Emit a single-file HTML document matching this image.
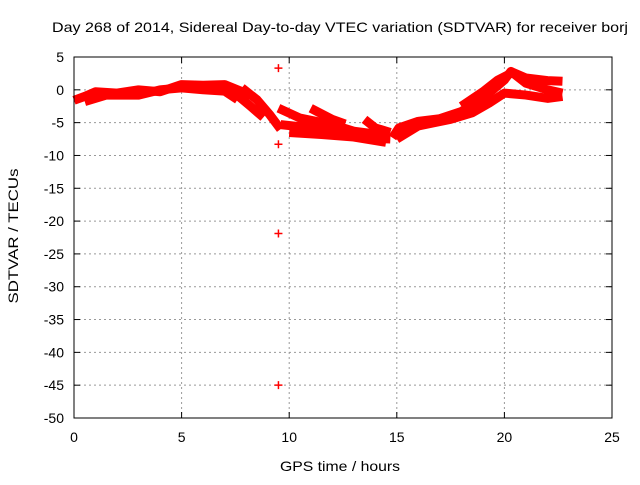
<!DOCTYPE html>
<html><head><meta charset="utf-8"><style>
body{margin:0;background:#fff;font-family:"Liberation Sans",sans-serif;}
svg text{font-family:"Liberation Sans",sans-serif;font-size:14px;fill:#000;}
</style></head><body>
<svg width="640" height="480">
<text x="340" y="32" text-anchor="middle" textLength="576" lengthAdjust="spacingAndGlyphs">Day 268 of 2014, Sidereal Day-to-day VTEC variation (SDTVAR) for receiver borj</text>
<g id="grid"></g>
<g id="marks"></g>
<rect x="74" y="57" width="538" height="361" fill="none" stroke="#000"/>
<g id="ticks"></g>
<text x="340" y="471" text-anchor="middle" textLength="120" lengthAdjust="spacingAndGlyphs">GPS time / hours</text>
<text transform="translate(18,236) rotate(-90)" text-anchor="middle" textLength="135" lengthAdjust="spacingAndGlyphs">SDTVAR / TECUs</text>
</svg>
<script>
const xTicks=[0,5,10,15,20,25];
const yTicks=[5,0,-5,-10,-15,-20,-25,-30,-35,-40,-45,-50];
const arcUpper=[[0,-1.6],[0.5,-1],[1,-0.3],[2,-0.5],[3,0],[4,-0.3],[5,0.8],[6,0.7],[7,0.8],[7.6,0],[8.2,-0.8]];
const arcUpper2=[[0.5,-1.8],[1.5,-0.8],[3,-0.8],[4,0],[5,0.3],[6,0],[7,-0.2],[7.6,-1.5]];
const arcDownA=[[7.8,0.3],[8.5,-1.5],[9.1,-3.8],[9.6,-6]];
const arcDownB=[[7.4,-0.3],[8.2,-2.5],[8.8,-4.2]];
const arcMidA=[[9.5,-2.8],[10.5,-4.3],[12,-5.3],[13,-6.3],[14.6,-7]];
const arcMidB=[[9.6,-5.3],[11,-5.8],[12.5,-6.5],[14,-7.4],[14.7,-7.5]];
const arcMidC=[[11,-2.8],[12,-4.5],[12.6,-5.2]];
const arcMidD=[[10,-6.5],[11.5,-6.8],[13,-7.2],[14.5,-8]];
const arcMidE=[[13.5,-4.5],[14,-5.8],[14.7,-6.5]];
const arcRiseA=[[14.8,-7.3],[15.1,-5.8],[16,-4.8],[17,-4.4],[18,-3.3],[19,-1.3],[20,1.5],[20.3,2.8],[21,1],[22,0],[22.7,-0.5]];
const arcRiseB=[[15,-7.5],[16,-5.5],[17.5,-4.5],[18.5,-3.5],[19.3,-2],[20,-0.5],[21,-0.8],[22,-1.3],[22.7,-1]];
const arcRiseD=[[18,-2.5],[19,-0.3],[19.7,1.5],[20.3,2.5]];
const arcRiseC=[[20.3,2.8],[21,1.8],[22,1.4],[22.7,1.3]];
const arcs=[arcUpper,arcUpper2,arcDownA,arcDownB,arcMidA,arcMidB,arcMidC,arcMidD,arcMidE,arcRiseA,arcRiseB,arcRiseD,arcRiseC];
const outliers=[[9.5,3.3],[9.5,-8.3],[9.5,-21.9],[9.5,-45]];
const NS="http://www.w3.org/2000/svg";
const X=t=>74+t*538/25, Y=v=>57+(5-v)*361/55;
const grid=document.getElementById('grid'),ticks=document.getElementById('ticks'),marks=document.getElementById('marks');
function mk(tag,a,p){const e=document.createElementNS(NS,tag);for(const k in a)e.setAttribute(k,a[k]);p.appendChild(e);return e;}
xTicks.forEach(t=>{const x=X(t);
 if(t>0&&t<25){const g=mk('line',{x1:x,x2:x,y1:57,y2:418,stroke:'#999','stroke-dasharray':'2,3'},grid);
 
 }
 const l=mk('text',{x:x,y:442,'text-anchor':'middle'},ticks);l.textContent=t;
 
 
 mk('line',{x1:x,x2:x,y1:418,y2:412,stroke:'#000'},ticks);mk('line',{x1:x,x2:x,y1:57,y2:63,stroke:'#000'},ticks);});
yTicks.forEach(v=>{const y=Y(v);
 if(v<5&&v>-50){const g=mk('line',{x1:74,x2:612,y1:y,y2:y,stroke:'#999','stroke-dasharray':'2,3'},grid);
 
 }
 const l=mk('text',{x:64,y:y+5,'text-anchor':'end'},ticks);l.textContent=v;
 
 
 mk('line',{x1:74,x2:80,y1:y,y2:y,stroke:'#000'},ticks);mk('line',{x1:606,x2:612,y1:y,y2:y,stroke:'#000'},ticks);});
arcs.forEach(a=>{const p=mk('polyline',{points:a.map(d=>X(d[0])+','+Y(d[1])).join(' '),fill:'none',stroke:'#f00','stroke-width':9,'stroke-linejoin':'round'},marks);
 
 });
outliers.forEach(d=>{const x=X(d[0]),y=Y(d[1]);
 const p=mk('path',{d:`M${x-4},${y}H${x+4}M${x},${y-4}V${y+4}`,stroke:'#f00','stroke-width':1.5},marks);
 
 });
</script>
</body></html>
